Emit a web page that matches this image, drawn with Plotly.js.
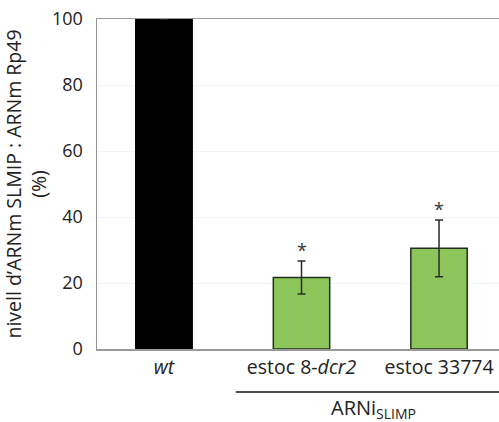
<!DOCTYPE html>
<html>
<head>
<meta charset="utf-8">
<script src="https://cdn.plot.ly/plotly-3.0.1.min.js"></script>
<style>html,body{margin:0;padding:0;background:#fff;}#chart{width:499px;height:422px;}</style>
</head>
<body>
<div id="chart"></div>
<script>
const categories = ["wt", "estoc 8-dcr2", "estoc 33774"];
const tickLabels = ["<i>wt</i>", "estoc 8-<i>dcr2</i>", "estoc 33774"];
const values = [100, 21.7, 30.5];
const errors = [0, 5.0, 8.6];
const significant = [false, true, true];
const barColors = ["#000000", "#8cc65a", "#8cc65a"];
const lineColors = ["#000000", "#22301a", "#22301a"];
const yTicks = [0, 20, 40, 60, 80, 100];
const groupLabel = "ARNi<sub>SLIMP</sub>";

const FONT = "Open Sans, Noto Sans, Liberation Sans, sans-serif";
const xs = categories.map((c, i) => i);

const trace = {
  type: "bar",
  x: xs,
  y: values,
  marker: { color: barColors, line: { color: lineColors, width: 1.5 } },
  error_y: {
    type: "data",
    array: errors,
    visible: true,
    color: "#2b2b2b",
    thickness: 1.5,
    width: 4
  },
  hoverinfo: "none"
};

const annotations = [];
xs.forEach((x, i) => {
  if (significant[i]) {
    annotations.push({
      x: x, y: values[i] + errors[i], xref: "x", yref: "y",
      text: "*", showarrow: false, yanchor: "bottom", yshift: -3,
      font: { family: FONT, size: 18, color: "#333333" }
    });
  }
});
annotations.push({
  x: (xs[1] + xs[2]) / 2 + 0.02, y: -0.18, xref: "x", yref: "paper",
  text: groupLabel, showarrow: false, yanchor: "middle",
  font: { family: FONT, size: 20, color: "#222222" }
});

const layout = {
  width: 499, height: 422,
  margin: { l: 97, r: 0, t: 19, b: 73 },
  paper_bgcolor: "#ffffff", plot_bgcolor: "#ffffff",
  showlegend: false,
  bargap: 0.59,
  xaxis: {
    range: [-0.487, 2.436],
    tickvals: xs, ticktext: tickLabels,
    showline: true, linecolor: "#9a9a9a", linewidth: 1.5, mirror: true,
    showgrid: false, zeroline: false, ticks: "",
    tickfont: { family: FONT, size: 19.5, color: "#222222" },
    fixedrange: true
  },
  yaxis: {
    range: [0, 100],
    tickvals: yTicks,
    showline: true, linecolor: "#9a9a9a", linewidth: 1.5,
    showgrid: true, gridcolor: "#f3f3f3", gridwidth: 1,
    zeroline: false, ticks: "", ticklabelstandoff: 9,
    tickfont: { family: FONT, size: 18, color: "#222222" },
    title: {
      text: "nivell d’ARNm SLMIP : ARNm Rp49<br>(%)",
      font: { family: FONT, size: 19.5, color: "#222222" },
      standoff: 6
    },
    fixedrange: true
  },
  shapes: [{
    type: "line", xref: "paper", yref: "paper",
    x0: 0.345, x1: 1.0, y0: -0.13, y1: -0.13,
    line: { color: "#111111", width: 1.5 }
  }],
  annotations: annotations
};

Plotly.newPlot("chart", [trace], layout, { displayModeBar: false, staticPlot: true });
</script>
</body>
</html>
